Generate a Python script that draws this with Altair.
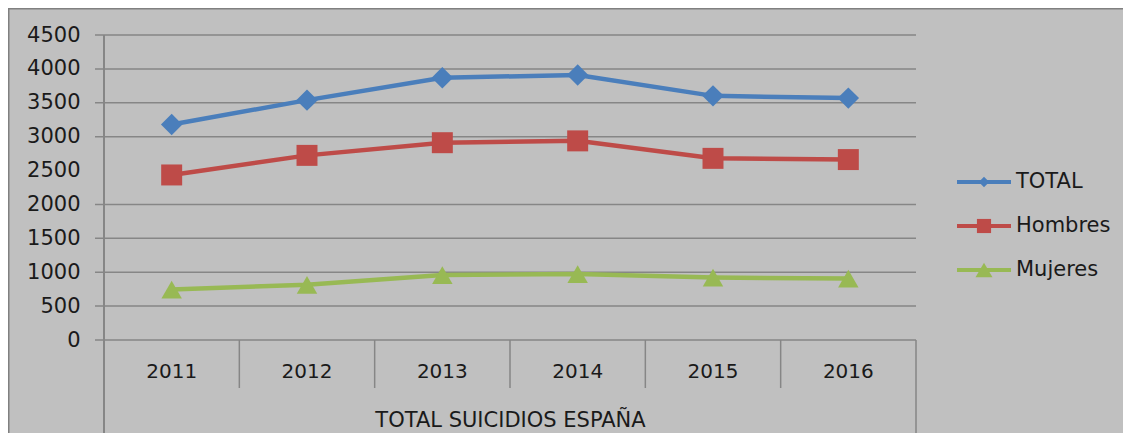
import altair as alt
import pandas as pd

YEARS = ["2011", "2012", "2013", "2014", "2015", "2016"]
TOTAL = [3180, 3539, 3870, 3910, 3602, 3569]
HOMBRES = [2435, 2724, 2911, 2938, 2680, 2662]
MUJERES = [745, 815, 959, 972, 922, 907]
SERIES = ["TOTAL", "Hombres", "Mujeres"]
COLORS = ["#4a7ebb", "#be4b48", "#98b954"]
SHAPES = ["diamond", "square", "triangle-up"]
Y_TICKS = [0, 500, 1000, 1500, 2000, 2500, 3000, 3500, 4000, 4500]
GRID_VALUES = [0, 500, 1000, 1500, 2000, 3000, 3500, 4000, 4500]
X_TITLE = "TOTAL SUICIDIOS ESPAÑA"

FONT = "DejaVu Sans"
GRID_COLOR = "#868686"
TEXT_COLOR = "#1a1a1a"

W, H = 812, 305

rows = []
for name, vals in zip(SERIES, [TOTAL, HOMBRES, MUJERES]):
    for yr, v in zip(YEARS, vals):
        rows.append({"year": yr, "series": name, "value": v})
df = pd.DataFrame(rows)
df_years = pd.DataFrame({"year": YEARS})
df_grid = pd.DataFrame({"v": GRID_VALUES})
df_leg = pd.DataFrame({"series": SERIES})
df_one = pd.DataFrame({"a": [0]})

xscale = alt.Scale(type="band", domain=YEARS, paddingInner=0, paddingOuter=0)
yscale = alt.Scale(domain=[0, 4500], nice=False, zero=True)
color = alt.Color("series:N", scale=alt.Scale(domain=SERIES, range=COLORS), legend=None)
shape = alt.Shape("series:N", scale=alt.Scale(domain=SERIES, range=SHAPES), legend=None)

XAX = alt.Axis(domain=False, ticks=False, grid=False, labelFont=FONT, labelFontSize=20,
               labelColor=TEXT_COLOR, labelPadding=21, labelAngle=0,
               title=X_TITLE, titleFont=FONT, titleFontSize=21, titleFontWeight="normal",
               titleColor=TEXT_COLOR, titlePadding=28)

grid = alt.Chart(df_grid).mark_rule(color=GRID_COLOR, strokeWidth=1.5).encode(
    y=alt.Y("v:Q", scale=yscale, axis=alt.Axis(values=Y_TICKS, ticks=False, grid=False, domain=False,
                                               format="d",
                                               labelFont=FONT, labelFontSize=21, labelColor=TEXT_COLOR,
                                               labelPadding=24, title=None)),
    x=alt.value(-9), x2=alt.value(W),
)

seps = alt.Chart(df_years).mark_rule(color=GRID_COLOR, strokeWidth=1.5).encode(
    x=alt.X("year:N", scale=xscale, bandPosition=0, axis=XAX),
    y=alt.value(H), y2=alt.value(H + 48),
)

left_line = alt.Chart(df_one).mark_rule(color=GRID_COLOR, strokeWidth=2).encode(
    x=alt.value(0), y=alt.value(0), y2=alt.value(398))
right_line = alt.Chart(df_one).mark_rule(color=GRID_COLOR, strokeWidth=1.5).encode(
    x=alt.value(W), y=alt.value(H), y2=alt.value(398))
border_top = alt.Chart(df_one).mark_rule(color="#808080", strokeWidth=3).encode(
    x=alt.value(-96), x2=alt.value(W + 207), y=alt.value(-27))
border_left = alt.Chart(df_one).mark_rule(color="#808080", strokeWidth=3).encode(
    x=alt.value(-96), y=alt.value(-27), y2=alt.value(400))

lines = alt.Chart(df).mark_line(strokeWidth=4.5).encode(
    x=alt.X("year:N", scale=xscale, bandPosition=0.5, axis=XAX),
    y=alt.Y("value:Q", scale=yscale, axis=None),
    color=color, detail="series:N",
)
points = alt.Chart(df).mark_point(filled=True, opacity=1).encode(
    x=alt.X("year:N", scale=xscale, bandPosition=0.5, axis=XAX),
    y=alt.Y("value:Q", scale=yscale, axis=None),
    color=color, shape=shape,
    size=alt.Size("series:N", scale=alt.Scale(domain=SERIES, range=[460, 420, 520]), legend=None),
)

leg_y = alt.Y("series:N", scale=alt.Scale(type="point", domain=SERIES, range=[147, 235], padding=0), axis=None)
leg_lines = alt.Chart(df_leg).mark_rule(strokeWidth=4).encode(
    x=alt.value(853), x2=alt.value(907), y=leg_y, color=color)
leg_pts = alt.Chart(df_leg).mark_point(filled=True, opacity=1).encode(
    x=alt.value(880), y=leg_y, color=color, shape=shape,
    size=alt.Size("series:N", scale=alt.Scale(domain=SERIES, range=[110, 290, 240]), legend=None))
leg_text = alt.Chart(df_leg).mark_text(align="left", baseline="middle", font=FONT, fontSize=21,
                                       color=TEXT_COLOR).encode(
    x=alt.value(912), y=leg_y, text="series:N")

chart = alt.layer(
    grid, seps, left_line, right_line, border_top, border_left,
    lines, points, leg_lines, leg_pts, leg_text,
).resolve_scale(y="independent", size="independent").properties(
    width=W, height=H,
    autosize=alt.AutoSizeParams(type="none"),
    padding={"left": 96, "top": 27, "right": 207, "bottom": 93},
    background="#c0c0c0",
).configure_view(stroke=None)

chart.save("out.html", embed_options={"renderer": "svg", "actions": False})
